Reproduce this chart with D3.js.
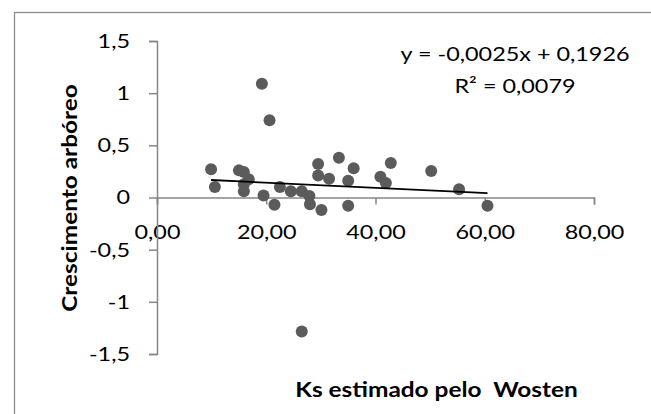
<!DOCTYPE html>
<html>
<head>
<meta charset="utf-8">
<script src="https://cdn.jsdelivr.net/npm/d3@7"></script>
<style>
body{margin:0;background:#fff;}
svg{display:block;font-family:Lato,'Open Sans',sans-serif;}
</style>
</head>
<body>
<svg></svg>
<script>
//data
var ksValues = [9.9, 10.6, 15.0, 15.9, 16.8, 15.9, 15.9, 19.2, 20.6, 19.5,
  21.5, 22.5, 24.5, 26.5, 27.9, 28.0, 30.1, 29.5, 29.5, 31.5,
  33.3, 36.0, 35.0, 35.0, 40.9, 41.9, 42.8, 50.2, 55.3, 60.5, 26.5];
var growthValues = [0.27, 0.10, 0.26, 0.245, 0.175, 0.127, 0.06, 1.09, 0.74, 0.02,
  -0.07, 0.10, 0.06, 0.06, 0.015, -0.065, -0.12, 0.32, 0.21, 0.18,
  0.38, 0.28, 0.16, -0.08, 0.20, 0.14, 0.33, 0.255, 0.08, -0.08, -1.285];
var xTickValues = [0, 20, 40, 60, 80];
var yTickValues = [-1.5, -1, -0.5, 0, 0.5, 1, 1.5];
var trendSlope = -0.0025;
var trendIntercept = 0.1926;
var equationLines = ['y = -0,0025x + 0,1926', 'R\u00b2 = 0,0079'];
var xTitle = 'Ks estimado pelo  Wosten';
var yTitle = 'Crescimento arb\u00f3reo';

var screen = {width: 651, height: 414};
var stretchX = 1.17;      // the picture is a bit wider than the font
var titleStretch = 1.22;
var fontSize = '20px';
var axisColor = '#868686';

var svg = d3.select('svg')
  .attr('width', screen.width)
  .attr('height', screen.height);

svg.append('rect')
  .attr('x', 14.5).attr('y', 12.5)
  .attr('width', 700).attr('height', 500)
  .attr('fill', '#fff')
  .attr('stroke', '#8c8c8c')
  .attr('stroke-width', 1.3);

var xScale = d3.scaleLinear().domain([0, 80]).range([157, 594]);
var yScale = d3.scaleLinear().domain([-1.5, 1.5]).range([354, 41]);

var stretch = function(sel)
{//move x/y into a transform so the glyphs can be widened
  sel.each(function()
  {
    var t = d3.select(this);
    var x = +t.attr('x') || 0;
    var y = +t.attr('y') || 0;
    t.attr('x', null).attr('y', null)
     .attr('transform', 'translate(' + x + ',' + y + ') scale(' + stretchX + ',1)');
  });
};

var comma = function(s){ return s.replace('.', ','); };

var xAxis = d3.axisBottom(xScale)
  .tickValues(xTickValues)
  .tickSize(7)
  .tickPadding(20)
  .tickFormat(function(d){ return comma(d3.format('.2f')(d)); });
var gx = svg.append('g')
  .attr('transform', 'translate(0,' + yScale(0) + ')')
  .call(xAxis);

var yAxis = d3.axisLeft(yScale)
  .tickValues(yTickValues)
  .tickSize(8)
  .tickPadding(19)
  .tickFormat(function(d){ return comma(String(d)); });
var gy = svg.append('g')
  .attr('transform', 'translate(' + xScale(0) + ',0)')
  .call(yAxis);

[gx, gy].forEach(function(g)
{
  g.attr('font-size', null).attr('font-family', null);
  g.selectAll('path, line').attr('stroke', axisColor).attr('stroke-width', 1.5);
  g.selectAll('text').attr('fill', '#000').style('font-size', fontSize);
  stretch(g.selectAll('text'));
});

//points
svg.append('g').selectAll('circle')
  .data(ksValues)
  .enter().append('circle')
  .attr('cx', function(d){ return xScale(d); })
  .attr('cy', function(d, i){ return yScale(growthValues[i]); })
  .attr('r', 6)
  .attr('fill', '#5b5b5b');

//linear trend line over the data range
var xExt = d3.extent(ksValues);
var trend = xExt.map(function(x){ return [x, trendIntercept + trendSlope * x]; });
svg.append('path')
  .datum(trend)
  .attr('d', d3.line()
    .x(function(d){ return xScale(d[0]); })
    .y(function(d){ return yScale(d[1]); }))
  .attr('fill', 'none')
  .attr('stroke', '#000')
  .attr('stroke-width', 1.8);

//equation
svg.append('g').selectAll('text')
  .data(equationLines)
  .enter().append('text')
  .attr('x', 515)
  .attr('y', function(d, i){ return 61 + i * 32; })
  .attr('text-anchor', 'middle')
  .style('font-size', fontSize)
  .text(function(d){ return d; })
  .call(stretch);

//axis titles
svg.append('text')
  .attr('text-anchor', 'middle')
  .attr('transform', 'translate(436.5,396.5) scale(' + titleStretch + ',1)')
  .style('font-size', fontSize)
  .style('font-weight', 'bold')
  .style('white-space', 'pre')
  .text(xTitle);

svg.append('text')
  .attr('text-anchor', 'middle')
  .attr('transform', 'translate(77,198) rotate(-90) scale(' + titleStretch + ',1)')
  .style('font-size', fontSize)
  .style('font-weight', 'bold')
  .text(yTitle);
</script>
</body>
</html>
